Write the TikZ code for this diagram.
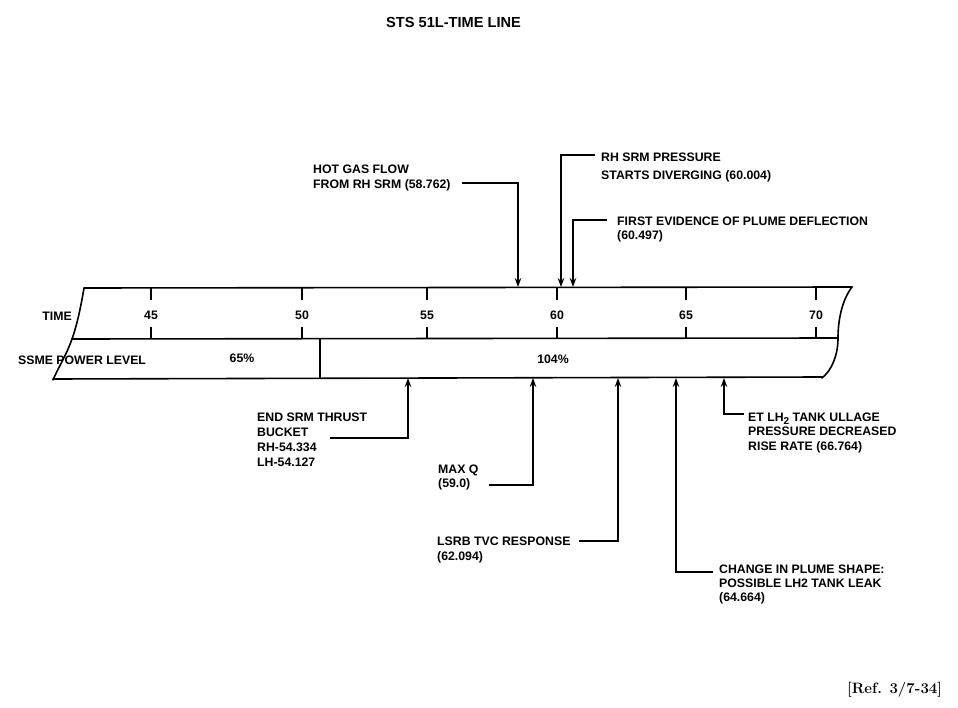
\documentclass[tikz,border=0pt]{standalone}
\usepackage{fontspec}
\newfontfamily\labfont{Liberation Sans}
\usetikzlibrary{arrows.meta}
\tikzset{
  lab/.style={font=\labfont\bfseries\fontsize{12.3}{15}\selectfont, inner sep=0pt, anchor=north west, align=left},
  num/.style={font=\labfont\bfseries\fontsize{12.3}{15}\selectfont, inner sep=0pt},
  bar/.style={line width=1.6pt, line cap=round, line join=round},
  tickmark/.style={line width=1.6pt},
  lead/.style={line width=1.5pt, -{Stealth[length=9pt,width=6.5pt]}}
}
\begin{document}
\begin{tikzpicture}[x=1pt,y=-1pt]
\fill[white] (0,0) rectangle (958,708);
\useasboundingbox (0,0) rectangle (958,708);

% title and reference
\node[num, anchor=north west, font=\labfont\bfseries\fontsize{14.6}{16}\selectfont] (title) at (386,17) {STS 51L-TIME LINE};
\node[inner sep=0pt, anchor=north west, font=\rmfamily\bfseries\fontsize{15}{17}\selectfont] (ref) at (847,682) {[Ref. 3/7-34]};

% the time-line band
\draw[bar] (84,288) -- (852,287);
\draw[bar] (72,339) -- (838,338);
\draw[bar] (53,379) -- (822,377);
\draw[bar] (84,288) .. controls (80,312) and (76,328) .. (72,339) .. controls (66,356) and (58,368) .. (53,380);
\draw[bar] (852,287) .. controls (842,300) and (838,320) .. (838,338) .. controls (838,355) and (832,370) .. (822,378);
\draw[bar] (320,339) -- (320,378);

\foreach \x/\n in {151/45,302/50,427/55,557/60,686/65,816/70}{
  \draw[tickmark] (\x,288) -- (\x,300);
  \draw[tickmark] (\x,327) -- (\x,339);
  \node[num] (t\n) at (\x,315) {\n};
}
\node[num, anchor=east] (time) at (72,316) {TIME};
\node[num, anchor=west] (ssme) at (18,360) {SSME POWER LEVEL};
\node[num] (p65) at (242,358) {65\%};
\node[num] (p104) at (553,359) {104\%};

% labels above
\node[lab] (hot) at (313,165) {HOT GAS FLOW\\[-0.5pt]FROM RH SRM (58.762)};
\node[lab, font=\labfont\bfseries\fontsize{12.3}{18}\selectfont] (rhp) at (601,153) {RH SRM PRESSURE\\STARTS DIVERGING (60.004)};
\node[lab, font=\labfont\bfseries\fontsize{12.3}{14}\selectfont] (plume) at (617,216.5) {FIRST EVIDENCE OF PLUME DEFLECTION\\(60.497)};

% labels below
\node[lab] (endsrm) at (257,412.5) {END SRM THRUST\\BUCKET\\RH-54.334\\LH-54.127};
\node[lab, font=\labfont\bfseries\fontsize{12.3}{13.5}\selectfont] (maxq) at (438,465) {MAX Q\\(59.0)};
\node[lab] (lsrb) at (437,536.5) {LSRB TVC RESPONSE\\(62.094)};
\node[lab, font=\labfont\bfseries\fontsize{12.3}{14.5}\selectfont] (etlh) at (748,412.5) {ET LH\raisebox{-3pt}{\fontsize{10}{10}\selectfont 2} TANK ULLAGE\\PRESSURE DECREASED\\RISE RATE (66.764)};
\node[lab, font=\labfont\bfseries\fontsize{12.3}{14}\selectfont] (chg) at (719,565) {CHANGE IN PLUME SHAPE:\\POSSIBLE LH2 TANK LEAK\\(64.664)};

% connector ends
\coordinate (hotS) at (462,183);   \coordinate (hotT) at (518,287);
\coordinate (rhpS) at (595,155);   \coordinate (rhpT) at (561,287);
\coordinate (pluS) at (607,220);   \coordinate (pluT) at (573,287);
\coordinate (endS) at (330,438);   \coordinate (endT) at (408,378);
\coordinate (maxS) at (489,485);   \coordinate (maxT) at (533,378);
\coordinate (lsrS) at (579,541);   \coordinate (lsrT) at (618,378);
\coordinate (chgS) at (713,572);   \coordinate (chgT) at (676,378);
\coordinate (etS)  at (744,414);   \coordinate (etT)  at (724,378);

\draw[lead] (hotS) -| (hotT);
\draw[lead] (rhpS) -| (rhpT);
\draw[lead] (pluS) -| (pluT);
\draw[lead] (endS) -| (endT);
\draw[lead] (maxS) -| (maxT);
\draw[lead] (lsrS) -| (lsrT);
\draw[lead] (chgS) -| (chgT);
\draw[lead] (etS)  -| (etT);
\end{tikzpicture}
\end{document}
